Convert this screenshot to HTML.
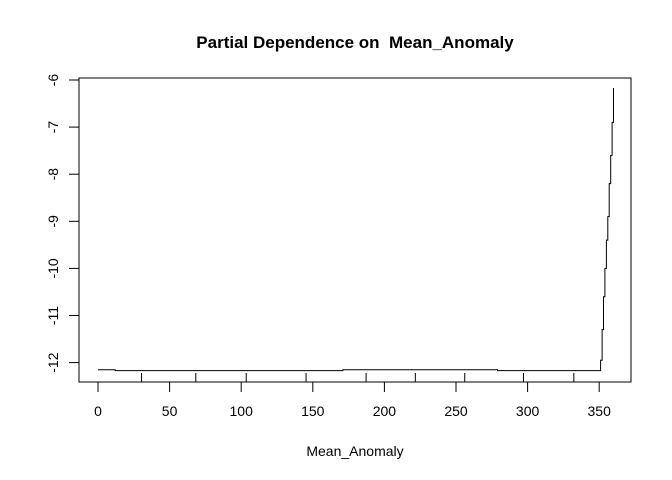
<!DOCTYPE html>
<html><head><meta charset="utf-8"><style>
body{margin:0;background:#fff;}
svg{display:block;font-family:"Liberation Sans",Arial,sans-serif;}
</style></head><body>
<svg id="chart" width="672" height="480">
<text x="355" y="48" text-anchor="middle" font-weight="bold" font-size="17">Partial Dependence on &#160;Mean_Anomaly</text>
<text x="355" y="456" text-anchor="middle" font-size="14">Mean_Anomaly</text>
<rect x="79" y="78" width="552" height="304" fill="none" stroke="#000" stroke-width="1"/>
<g id="xaxis"></g>
<g id="yaxis"></g>
<g id="rug"></g>
<g id="series"></g>
</svg>
<script>
const xTicks=[0,50,100,150,200,250,300,350];
const yTicks=[-12,-11,-10,-9,-8,-7,-6];
const deciles=[30.4,68.3,103.5,145.3,187.2,221.6,256.1,297.1,332.3];
const xVals=[0,11,12,170,171,278,279,350,351,352,353,354,355,356,357,358,359,360];
const yVals=[-12.15,-12.15,-12.17,-12.17,-12.15,-12.15,-12.17,-12.17,-11.95,-11.3,-10.6,-10.0,-9.4,-8.9,-8.2,-7.6,-6.9,-6.17];
const NS="http://www.w3.org/2000/svg";
const xs=v=>98+v*1.432;
const ys=v=>80-(v+6)*47.1;
function mk(tag,attrs,parent){const e=document.createElementNS(NS,tag);for(const k in attrs)e.setAttribute(k,attrs[k]);document.getElementById(parent).appendChild(e);return e;}
xTicks.forEach(t=>{
 const l=mk('line',{x1:xs(t),x2:xs(t),y1:382,y2:392,stroke:'#000'},'xaxis');
 
 
 const tx=mk('text',{x:xs(t),y:416,'text-anchor':'middle','font-size':'14'},'xaxis');
 tx.textContent=t;
 
 
});
yTicks.forEach(t=>{
 const y=ys(t);
 const l=mk('line',{x1:69,x2:79,y1:y,y2:y,stroke:'#000'},'yaxis');
 
 
 const tx=mk('text',{x:58,y:y,'text-anchor':'middle','font-size':'14',transform:`rotate(-90 58 ${y})`},'yaxis');
 tx.textContent=t;
 
 
});
deciles.forEach(d=>{
 const l=mk('line',{x1:xs(d),x2:xs(d),y1:373,y2:382,stroke:'#000'},'rug');
 
 
});
let pts='';
for(let i=0;i<xVals.length;i++){
 if(i>0) pts+=` ${xs(xVals[i]).toFixed(1)},${ys(yVals[i-1]).toFixed(1)}`;
 pts+=` ${xs(xVals[i]).toFixed(1)},${ys(yVals[i]).toFixed(1)}`;
}
const pl=mk('polyline',{points:pts,fill:'none',stroke:'#000','stroke-width':'1'},'series');


</script>
</body></html>
